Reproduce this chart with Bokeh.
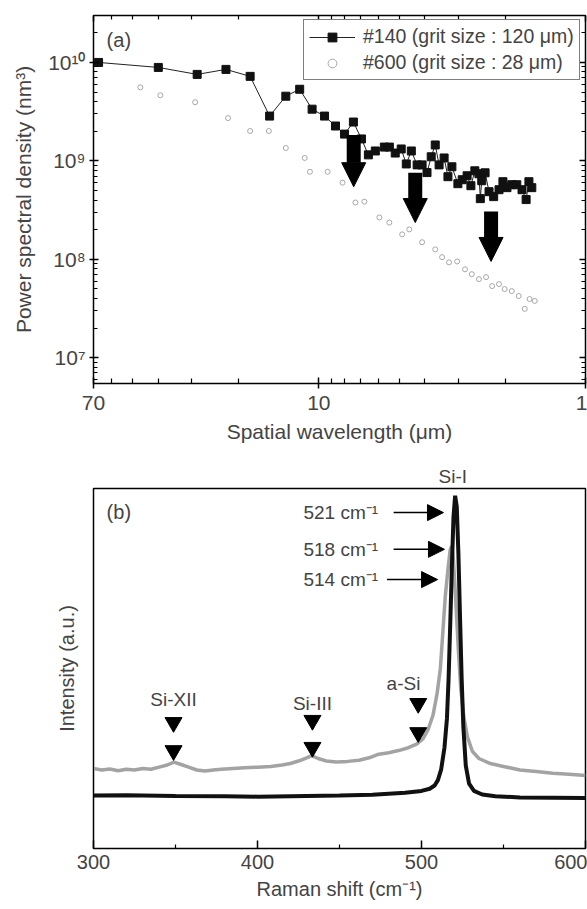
from bokeh.plotting import figure
from bokeh.models import (Range1d, FixedTicker, LogAxis, Legend, LegendItem,
                          Label, Arrow, NormalHead, ColumnDataSource, Title)
from bokeh.layouts import column
from bokeh.embed import file_html
from bokeh.resources import INLINE

FONT = "Liberation Sans"

# ---------------- Panel (a) data ----------------
wl_140 = [67.0, 40.0, 28.6, 22.3, 18.1, 15.3, 13.3, 11.8, 10.6, 9.52, 8.66, 8.01,
          7.42, 6.92, 6.52, 6.14, 5.68, 5.44, 5.17, 4.91, 4.70, 4.50, 4.28, 4.10,
          3.93, 3.79, 3.66, 3.54, 3.39, 3.28, 3.17, 3.01, 2.90, 2.78, 2.69, 2.60,
          2.51, 2.48, 2.45, 2.38, 2.30, 2.21, 2.11, 2.04, 1.97, 1.89, 1.81, 1.73,
          1.67, 1.63, 1.59]
psd_140 = [1.0e10, 8.9e9, 7.56e9, 8.5e9, 7.22e9, 2.85e9, 4.54e9, 5.34e9, 3.35e9,
           2.85e9, 2.26e9, 1.87e9, 2.48e9, 1.67e9, 1.15e9, 1.26e9, 1.38e9, 1.38e9,
           1.20e9, 1.32e9, 9.3e8, 1.26e9, 9.1e8, 9.1e8, 7.6e8, 1.10e9, 1.45e9,
           9.1e8, 1.07e9, 6.9e8, 8.7e8, 5.86e8, 6.43e8, 7.05e8, 5.59e8, 7.92e8,
           7.39e8, 4.13e8, 6.28e8, 7.56e8, 4.86e8, 4.33e8, 5.09e8, 6.14e8, 5.34e8,
           5.72e8, 5.72e8, 5.09e8, 4.04e8, 6.14e8, 5.34e8]

wl_600 = [46.7, 39.3, 29.1, 21.9, 18.1, 15.4, 13.3, 11.3, 10.8, 9.27, 8.15, 7.29,
          6.75, 5.93, 5.44, 4.87, 4.58, 4.10, 3.66, 3.45, 3.25, 3.03, 2.83, 2.67,
          2.51, 2.36, 2.24, 2.11, 2.01, 1.89, 1.78, 1.69, 1.62, 1.55]
psd_600 = [5.59e9, 4.64e9, 3.94e9, 2.72e9, 2.01e9, 2.01e9, 1.35e9, 1.07e9, 7.74e8,
           7.74e8, 6.0e8, 3.77e8, 3.85e8, 2.66e8, 2.36e8, 1.79e8, 2.01e8, 1.49e8,
           1.26e8, 1.05e8, 9.3e7, 9.5e7, 7.9e7, 7.05e7, 6.28e7, 6.58e7, 5.34e7,
           5.59e7, 4.98e7, 4.75e7, 4.23e7, 3.13e7, 3.94e7, 3.77e7]

drop_x = [7.4, 4.35, 2.26]
drop_top = [1.83e9, 7.56e8, 3.05e8]
drop_tip = [5.46e8, 2.36e8, 9.5e7]

x_ticks_a = [70, 10, 1]
x_labels_a = ["70", "10", "1"]
y_ticks_a = [1e7, 1e8, 1e9, 1e10]
y_labels_a = ["10\u2077", "10\u2078", "10\u2079", "10\u00b9\u2070"]
legend_labels = ["#140 (grit size : 120 \u03bcm)", "#600 (grit size : 28 \u03bcm)"]

# ---------------- Panel (b) data ----------------
raman_x_black = [300, 320, 350, 380, 400, 430, 450, 470, 490, 500, 505, 508, 510,
                 512, 514, 515.5, 516.5, 517.5, 518.5, 519.5, 520.5, 521.5, 522.5,
                 523.5, 524.5, 525.5, 527, 529, 532, 537, 545, 560, 580, 600]
raman_i_black = [0.147, 0.148, 0.146, 0.145, 0.144, 0.146, 0.147, 0.149, 0.155,
                 0.160, 0.166, 0.175, 0.19, 0.22, 0.28, 0.36, 0.47, 0.62, 0.78,
                 0.92, 0.98, 0.95, 0.82, 0.64, 0.47, 0.34, 0.23, 0.18, 0.16, 0.150,
                 0.145, 0.142, 0.141, 0.140]

raman_x_gray = [300, 305, 310, 315, 320, 325, 330, 335, 340, 345, 349, 353, 358,
                363, 368, 373, 378, 385, 392, 400, 408, 415, 420, 425, 430, 433,
                437, 442, 448, 455, 462, 468, 474, 480, 486, 492, 497, 501, 504,
                507, 509.5, 511.5, 513, 514.5, 516, 517.5, 518.5, 519.5, 521,
                522.5, 524, 526, 528, 531, 535, 542, 550, 560, 570, 580, 590, 600]
raman_i_gray = [0.222, 0.218, 0.221, 0.216, 0.220, 0.218, 0.222, 0.220, 0.226,
                0.232, 0.240, 0.234, 0.226, 0.218, 0.215, 0.218, 0.220, 0.222,
                0.224, 0.226, 0.228, 0.232, 0.236, 0.243, 0.252, 0.258, 0.250,
                0.243, 0.240, 0.242, 0.245, 0.252, 0.262, 0.266, 0.272, 0.280,
                0.290, 0.305, 0.33, 0.37, 0.43, 0.50, 0.60, 0.70, 0.77, 0.83,
                0.84, 0.80, 0.68, 0.55, 0.44, 0.36, 0.31, 0.27, 0.25, 0.236,
                0.228, 0.218, 0.214, 0.209, 0.206, 0.203]

peak_labels = ["521 cm\u207b\u00b9", "518 cm\u207b\u00b9", "514 cm\u207b\u00b9"]
peak_label_x = [428, 428, 428]
peak_y = [0.933, 0.831, 0.747]
peak_arrow_start = [483, 483, 479]
peak_arrow_end = [513.4, 514.0, 509.8]

phase_labels = ["Si-XII", "Si-III", "a-Si", "Si-I"]
phase_x = [348.8, 433.5, 489, 518.9]
phase_y = [0.414, 0.403, 0.458, 1.042]
tri_x = [348.8, 348.8, 433.5, 433.5, 498, 498]
tri_y = [0.35, 0.272, 0.356, 0.281, 0.403, 0.322]

x_ticks_b = [300, 400, 500, 600]
x_minor_b = [350, 450, 550]


def style_axis(ax, size="20px", title_size="21px"):
    ax.axis_label_text_font = FONT
    ax.axis_label_text_font_style = "normal"
    ax.axis_label_text_font_size = title_size
    ax.major_label_text_font = FONT
    ax.major_label_text_font_size = size
    ax.axis_line_color = "black"
    ax.major_tick_line_color = "black"
    ax.minor_tick_line_color = "black"
    ax.major_tick_line_width = 1.5
    ax.minor_tick_line_width = 1.2


# ---------------- Figure (a) ----------------
p1 = figure(width=587, height=452, x_axis_type="log", y_axis_type="log",
            x_range=Range1d(70, 1), y_range=Range1d(5.46e6, 3.0e10),
            output_backend="svg", toolbar_location=None,
            min_border_left=90, min_border_right=2, min_border_top=15,
            min_border_bottom=69)
p1.grid.visible = False
p1.outline_line_color = "black"
p1.outline_line_width = 1.5

x_minor_a = [60, 50, 40, 30, 20, 9, 8, 7, 6, 5, 4, 3, 2]
y_minor_a = [k * 10.0 ** e for e in range(6, 11) for k in range(2, 10)]
xt = FixedTicker(ticks=x_ticks_a, minor_ticks=x_minor_a)
yt = FixedTicker(ticks=y_ticks_a, minor_ticks=y_minor_a)

xa = p1.xaxis[0]
xa.ticker = xt
xa.axis_label = "Spatial wavelength (\u03bcm)"
xa.major_label_overrides = {float(t): s for t, s in zip(x_ticks_a, x_labels_a)}
style_axis(xa, "21px", "21px")
xa.major_tick_in = 6
xa.major_tick_out = 5
xa.minor_tick_in = 5
xa.minor_tick_out = 0
xa.major_label_standoff = 7
xa.axis_label_standoff = 7

ya = p1.yaxis[0]
ya.ticker = yt
ya.axis_label = "Power spectral density (nm\u00b3)"
ya.major_label_overrides = {float(t): s for t, s in zip(y_ticks_a, y_labels_a)}
style_axis(ya, "21px", "21px")
ya.major_tick_in = 5
ya.major_tick_out = 4
ya.minor_tick_in = 4
ya.minor_tick_out = 0
ya.major_label_standoff = 4
ya.axis_label_standoff = 10

top_ax = LogAxis(ticker=xt, major_label_text_font_size="1px",
                 major_label_text_color=None, major_label_standoff=0,
                 major_tick_in=6, major_tick_out=0, minor_tick_in=4, minor_tick_out=0,
                 major_tick_line_width=1.5, minor_tick_line_width=1.2)
right_ax = LogAxis(ticker=yt, major_label_text_font_size="1px",
                   major_label_text_color=None, major_label_standoff=0,
                   major_tick_in=6, major_tick_out=0, minor_tick_in=4, minor_tick_out=0,
                   major_tick_line_width=1.5, minor_tick_line_width=1.2)
p1.add_layout(top_ax, "above")
p1.add_layout(right_ax, "right")

s600 = p1.scatter(wl_600, psd_600, marker="circle", size=5, fill_color=None,
                  line_color="#a8a8a8", line_width=1)
l140 = p1.line(wl_140, psd_140, line_color="#222222", line_width=1)
s140 = p1.scatter(wl_140, psd_140, marker="square", size=8, color="#111111")

src_drop = ColumnDataSource(dict(x=drop_x, y0=drop_top, y1=drop_tip))
p1.add_layout(Arrow(end=NormalHead(size=24, fill_color="black", line_color="black"),
                    x_start="x", y_start="y0", x_end="x", y_end="y1",
                    source=src_drop, line_width=14, line_color="black"))

legend = Legend(items=[LegendItem(label=legend_labels[0], renderers=[l140, s140]),
                       LegendItem(label=legend_labels[1], renderers=[s600])],
                location=(210, 303), glyph_width=46, glyph_height=22,
                label_height=22, label_standoff=8, spacing=3, padding=5, margin=0,
                border_line_color="black", border_line_width=1,
                label_text_font=FONT, label_text_font_size="19.5px")
p1.add_layout(legend)

p1.add_layout(Label(x=62.5, y=2.2e10, text="(a)", text_font=FONT,
                    text_font_size="20px", text_baseline="top", text_align="left"))

# ---------------- Figure (b) ----------------
p2 = figure(width=587, height=457, x_range=Range1d(300, 600), y_range=Range1d(0, 1),
            output_backend="svg", toolbar_location=None,
            min_border_left=93, min_border_right=2, min_border_top=36,
            min_border_bottom=61)
p2.grid.visible = False
p2.outline_line_color = "black"
p2.outline_line_width = 1.5

xb = p2.xaxis[0]
xb.ticker = FixedTicker(ticks=x_ticks_b, minor_ticks=x_minor_b)
xb.axis_label = "Raman shift (cm\u207b\u00b9)"
style_axis(xb, "20px", "20px")
xb.major_tick_in = 8
xb.major_tick_out = 0
xb.minor_tick_in = 4
xb.minor_tick_out = 0
xb.major_label_standoff = 6
xb.axis_label_standoff = 6

yb = p2.yaxis[0]
yb.axis_label = "Intensity (a.u.)"
style_axis(yb, "20px", "20px")
yb.major_label_text_font_size = "1px"
yb.major_label_text_color = None
yb.major_tick_line_color = None
yb.minor_tick_line_color = None
yb.major_tick_out = 0
yb.major_label_standoff = 0
yb.axis_label_standoff = 12

p2.line(raman_x_gray, raman_i_gray, line_color="#a3a3a3", line_width=3.5)
p2.line(raman_x_black, raman_i_black, line_color="#111111", line_width=4)

p2.scatter(tri_x, tri_y, marker="inverted_triangle", size=17, color="black")

src_pk = ColumnDataSource(dict(x0=peak_arrow_start, x1=peak_arrow_end, y=peak_y))
p2.add_layout(Arrow(end=NormalHead(size=16, fill_color="black", line_color="black"),
                    x_start="x0", y_start="y", x_end="x1", y_end="y",
                    source=src_pk, line_width=1.5, line_color="black"))

for lab, lx, ly in zip(peak_labels, peak_label_x, peak_y):
    p2.add_layout(Label(x=lx, y=ly, text=lab, text_font=FONT, text_font_size="19px",
                        text_baseline="middle", text_align="left"))
for lab, lx, ly in zip(phase_labels[:3], phase_x[:3], phase_y[:3]):
    p2.add_layout(Label(x=lx, y=ly, text=lab, text_font=FONT, text_font_size="19px",
                        text_baseline="middle", text_align="center"))

# "Si-I" sits above the frame: place it as a title, offset from the data value
frame_w = 587 - 93 - 2
si1_center = (phase_x[3] - 300) / 300 * frame_w
p2.add_layout(Title(text=phase_labels[3], align="left", offset=si1_center - 14,
                    text_font=FONT, text_font_size="19px", text_font_style="normal",
                    standoff=3), "above")

p2.add_layout(Label(x=308, y=0.964, text="(b)", text_font=FONT,
                    text_font_size="20px", text_baseline="top", text_align="left"))

layout = column(p1, p2)
open("out.html", "w").write(file_html(layout, INLINE))
